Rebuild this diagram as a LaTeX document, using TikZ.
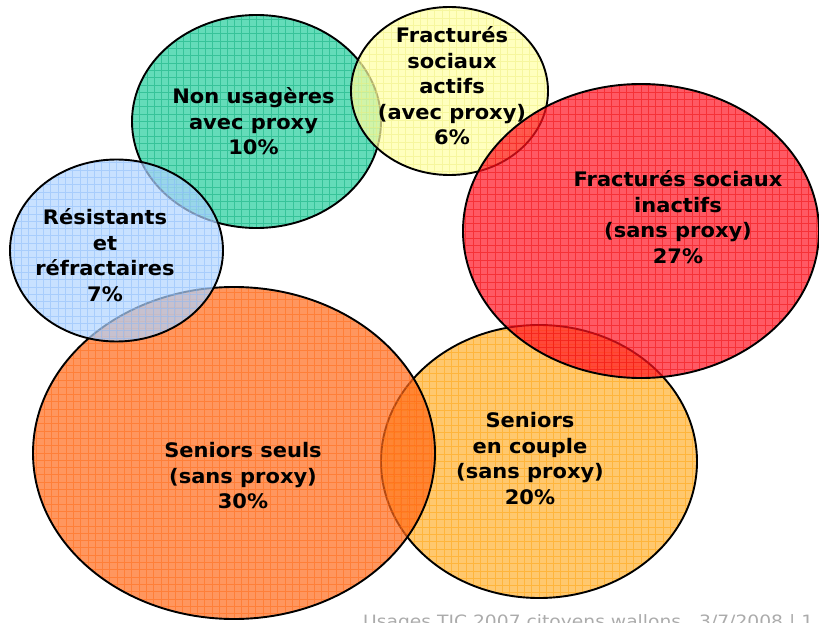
\documentclass[tikz,border=0pt]{standalone}
\usepackage{fontspec}
\usetikzlibrary{shapes.geometric}
\newfontfamily\labfont[FakeStretch=1.05]{DejaVu Sans}
\newfontfamily\footfont[FakeStretch=1.1]{DejaVu Sans}
\definecolor{gFill}{RGB}{34,205,155}
\definecolor{gLine}{RGB}{0,165,115}
\definecolor{yFill}{RGB}{255,255,162}
\definecolor{yLine}{RGB}{235,235,120}
\definecolor{rFill}{RGB}{255,19,34}
\definecolor{rLine}{RGB}{235,0,0}
\definecolor{bFill}{RGB}{176,212,255}
\definecolor{bLine}{RGB}{130,182,250}
\definecolor{oFill}{RGB}{255,105,26}
\definecolor{oLine}{RGB}{255,100,10}
\definecolor{lFill}{RGB}{255,176,48}
\definecolor{lLine}{RGB}{255,160,0}
\tikzset{
  bubble/.style={ellipse, draw=black, line width=1.9pt, inner sep=0pt, outer sep=0pt,
    fill opacity=0.7, draw opacity=1},
  hatch/.style={path picture={\draw[#1, line width=0.9pt, draw opacity=0.45, step=7.3pt]
      (path picture bounding box.south west) grid (path picture bounding box.north east);}},
  lab/.style={font=\labfont\bfseries\fontsize{20}{25.5}\selectfont, align=center, inner sep=0pt, text=black},
  foot/.style={font=\footfont\fontsize{17}{20}\selectfont, text=black!33, inner sep=0pt, anchor=base west}
}
\begin{document}
\begin{tikzpicture}[x=1pt,y=-1pt]
\useasboundingbox (0,0) rectangle (819,623);
% ellipses, in drawing order
\node[bubble, fill=gFill, hatch=gLine, minimum width=249pt, minimum height=213pt] (green) at (256.5,121.5) {};
\node[bubble, fill=yFill, hatch=yLine, minimum width=197pt, minimum height=168pt] (yellow) at (449.5,91) {};
\node[bubble, fill=lFill, hatch=lLine, minimum width=316pt, minimum height=273pt] (couple) at (539,461.5) {};
\node[bubble, fill=rFill, hatch=rLine, minimum width=356pt, minimum height=294pt] (red) at (641,231) {};
\node[bubble, fill=oFill, hatch=oLine, minimum width=402pt, minimum height=332pt] (seuls) at (234,453) {};
\node[bubble, fill=bFill, hatch=bLine, minimum width=213pt, minimum height=182pt] (blue) at (116.5,250.5) {};
% labels
\node[lab] (tgreen) at (253.5,121.5) {Non usagères\\avec proxy\\10\%};
\node[lab] (tyellow) at (452,86) {Fracturés\\sociaux\\actifs\\(avec proxy)\\6\%};
\node[lab] (tred) at (678,217) {Fracturés sociaux\\inactifs\\(sans proxy)\\27\%};
\node[lab] (tblue) at (105,255) {Résistants\\et\\réfractaires\\7\%};
\node[lab] (tseuls) at (243,476) {Seniors seuls\\(sans proxy)\\30\%};
\node[lab] (tcouple) at (530,458.5) {Seniors\\en couple\\(sans proxy)\\20\%};
% footer (cut off at the lower edge, as in the original)
\node[foot] (footer) at (363,627.5) {Usages TIC 2007 citoyens wallons\hspace{12pt} 3/7/2008 | 1};
\end{tikzpicture}
\end{document}
